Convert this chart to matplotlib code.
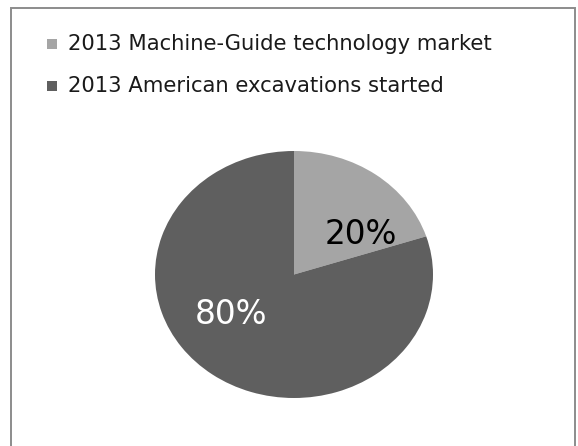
import matplotlib
matplotlib.use("Agg")
import matplotlib.pyplot as plt
from matplotlib.patches import Rectangle

categories = ["2013 Machine-Guide technology market", "2013 American excavations started"]
values = [20, 80]
colors = ["#a5a5a5", "#5f5f5f"]
label_colors = ["black", "white"]

W, H = 578, 446
fig = plt.figure(figsize=(W / 100, H / 100), dpi=100)
fig.patch.set_facecolor("white")

# outer chart border (cut at bottom)
fig.add_artist(Rectangle((11 / W, -0.05), (575 - 11) / W, 1.05 - 8 / H,
                         transform=fig.transFigure, fill=False,
                         edgecolor="#8c8c8c", linewidth=1.4))

# pie area (elliptical like the original)
left, right, top, bottom = 155, 433, 151, 398
ax = fig.add_axes([left / W, 1 - bottom / H, (right - left) / W, (bottom - top) / H])
wedges, texts, autotexts = ax.pie(values, colors=colors, startangle=90, counterclock=False,
                                  autopct="%d%%", pctdistance=0.6,
                                  textprops=dict(fontsize=23.5, family="DejaVu Sans"))
ax.set_aspect("auto")
ax.set_xlim(-1, 1)
ax.set_ylim(-1, 1)
label_pos = [(0.48, 0.32), (-0.45, -0.32)]
for t, c, p in zip(autotexts, label_colors, label_pos):
    t.set_color(c)
    t.set_position(p)
    t.set_ha("center")
    t.set_va("center")

# legend
rows_y = [44, 86]
for cat, col, y in zip(categories, colors, rows_y):
    fig.add_artist(Rectangle((47 / W, 1 - (y + 5) / H), 10 / W, 10 / H,
                             transform=fig.transFigure, facecolor=col, edgecolor="none"))
    fig.text(68 / W, 1 - y / H, cat, fontsize=15.2, family="DejaVu Sans",
             va="center", ha="left", color="#1a1a1a")

fig.savefig("out.png", dpi=100)
